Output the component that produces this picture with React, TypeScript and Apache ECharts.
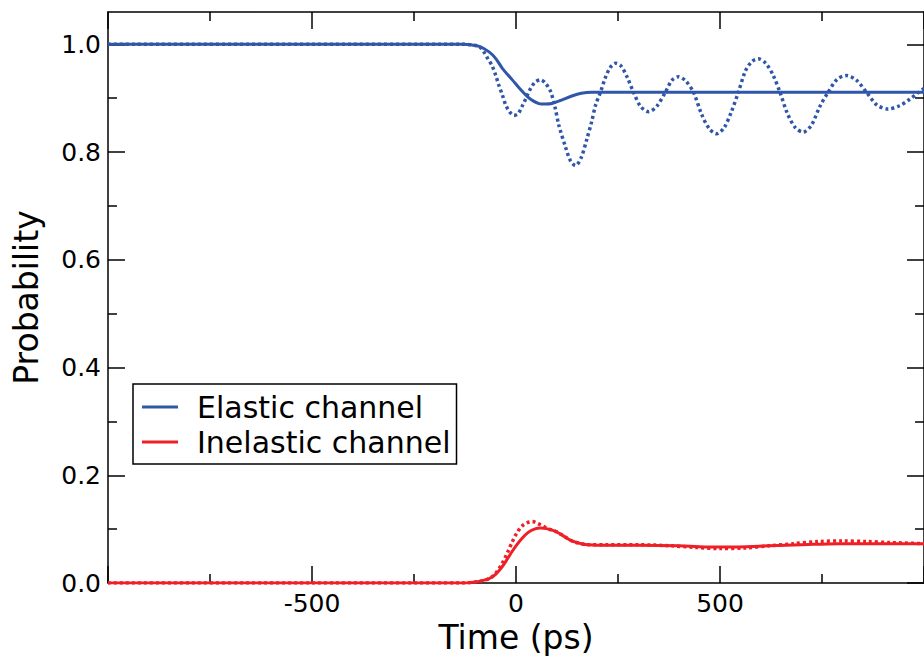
import React, { useEffect, useRef } from "react";
import * as echarts from "echarts";

// ---------- data ----------
const elasticSolidTime = [-1000, -500, -130, -110, -90, -66, -50, -33, -9, 10, 28, 42, 56, 72, 88, 110, 137, 160, 185, 220, 600, 1000];
const elasticSolidProb = [1, 1, 1, 0.999, 0.996, 0.986, 0.974, 0.955, 0.934, 0.917, 0.903, 0.895, 0.89, 0.889, 0.89, 0.896, 0.904, 0.909, 0.911, 0.911, 0.911, 0.911];

const elasticDotTime = [-1000, -500, -130, -110, -90, -78, -68, -59, -50, -42, -33, -25, -15, -5, 5, 15, 24, 35, 47, 60, 72, 85, 95, 105, 121, 134, 146, 160, 174, 185, 195, 207, 219, 231, 244, 257, 272, 288, 305, 325, 345, 366, 382, 398, 416, 435, 455, 474, 492, 510, 528, 545, 562, 578, 594, 612, 630, 647, 665, 685, 704, 724, 745, 765, 787, 810, 835, 859, 885, 912, 940, 965, 985, 1000];
const elasticDotProb = [1, 1, 1, 0.999, 0.996, 0.985, 0.972, 0.961, 0.943, 0.924, 0.905, 0.887, 0.874, 0.868, 0.871, 0.885, 0.899, 0.917, 0.93, 0.934, 0.928, 0.912, 0.885, 0.85, 0.81, 0.783, 0.775, 0.79, 0.825, 0.855, 0.887, 0.911, 0.938, 0.957, 0.965, 0.96, 0.94, 0.911, 0.885, 0.875, 0.885, 0.911, 0.933, 0.94, 0.932, 0.911, 0.87, 0.843, 0.834, 0.845, 0.875, 0.911, 0.95, 0.968, 0.973, 0.965, 0.943, 0.911, 0.872, 0.845, 0.837, 0.85, 0.885, 0.911, 0.935, 0.942, 0.933, 0.911, 0.887, 0.88, 0.886, 0.898, 0.91, 0.918];

const inelasticSolidTime = [-1000, -500, -130, -110, -90, -66, -50, -34, -20, -10, 0, 15, 30, 45, 60, 75, 97, 115, 137, 160, 178, 220, 300, 400, 464, 545, 620, 700, 790, 870, 1000];
const inelasticSolidProb = [0, 0, 0, 0.001, 0.003, 0.008, 0.016, 0.03, 0.046, 0.058, 0.069, 0.083, 0.094, 0.1, 0.102, 0.101, 0.096, 0.088, 0.078, 0.073, 0.071, 0.07, 0.07, 0.069, 0.067, 0.067, 0.069, 0.071, 0.073, 0.073, 0.073];

const inelasticDotTime = [-1000, -500, -130, -110, -90, -66, -50, -34, -20, -10, 2, 15, 28, 40, 52, 65, 80, 97, 115, 137, 160, 178, 220, 300, 380, 440, 500, 560, 620, 680, 740, 800, 860, 920, 1000];
const inelasticDotProb = [0, 0, 0, 0.001, 0.003, 0.008, 0.018, 0.036, 0.058, 0.075, 0.093, 0.106, 0.112, 0.114, 0.111, 0.106, 0.1, 0.096, 0.088, 0.078, 0.073, 0.071, 0.071, 0.071, 0.069, 0.066, 0.064, 0.065, 0.069, 0.073, 0.077, 0.078, 0.077, 0.075, 0.073];

const yMajorTicks = [0, 0.2, 0.4, 0.6, 0.8, 1.0];
const yMinorTicks = [0.1, 0.3, 0.5, 0.7, 0.9];
const legendNames = ["Elastic channel", "Inelastic channel"];

const BLUE = "#2f56a8";
const RED = "#ee1f26";
const FONT = "DejaVu Sans";

const zip = (t: number[], p: number[]) => t.map((v, i) => [v, p[i]]);

export default function App() {
  const ref = useRef<HTMLDivElement>(null);
  useEffect(() => {
    document.body.style.margin = "0";
    const chart = echarts.init(ref.current!, null, { renderer: "svg" });
    const axisLineStyle = { color: "#000", width: 1.5 };
    const xBase = (pos: "bottom" | "top", labels: boolean) => ({
      type: "value",
      position: pos,
      min: -1000,
      max: 1000,
      interval: 500,
      axisLine: { show: true, onZero: false, lineStyle: axisLineStyle },
      axisTick: { show: true, inside: true, length: 17, lineStyle: axisLineStyle },
      minorTick: { show: true, splitNumber: 2, length: 9, lineStyle: axisLineStyle },
      splitLine: { show: false },
      minorSplitLine: { show: false },
      axisLabel: {
        show: labels,
        showMinLabel: false,
        showMaxLabel: false,
        fontSize: 25,
        fontFamily: FONT,
        color: "#000",
        margin: 8,
      },
    });
    const yBase = (pos: "left" | "right", ticks: number[], len: number, line: boolean, labels: boolean) => ({
      type: "value",
      position: pos,
      min: 0,
      max: 1.06,
      interval: 0.2,
      axisLine: { show: line, onZero: false, lineStyle: axisLineStyle },
      axisTick: { show: true, inside: true, length: len, customValues: ticks, lineStyle: axisLineStyle },
      splitLine: { show: false },
      axisLabel: {
        show: labels,
        customValues: ticks,
        formatter: (v: number) => v.toFixed(1),
        fontSize: 25,
        fontFamily: FONT,
        color: "#000",
        margin: 7,
      },
    });
    const yMain: any = yBase("left", yMajorTicks, 17, true, true);
    yMain.name = "Probability";
    yMain.nameLocation = "middle";
    yMain.nameGap = 65;
    yMain.nameTextStyle = { fontSize: 33, fontFamily: FONT, color: "#000" };
    const xMain: any = xBase("bottom", true);
    xMain.name = "Time (ps)";
    xMain.nameLocation = "middle";
    xMain.nameGap = 35;
    xMain.nameTextStyle = { fontSize: 33, fontFamily: FONT, color: "#000" };

    const lineSeries = (name: string, data: number[][], color: string, dotted: boolean) => ({
      type: "line",
      name,
      data,
      xAxisIndex: 0,
      yAxisIndex: 0,
      showSymbol: false,
      symbol: "none",
      smooth: 0.3,
      lineStyle: { color, width: dotted ? 3.5 : 3, type: dotted ? [3, 3] : "solid" },
      itemStyle: { color },
      z: dotted ? 2 : 3,
    });

    chart.setOption({
      animation: false,
      backgroundColor: "#fff",
      grid: { left: 108, top: 12, right: -2, bottom: 81, containLabel: false },
      xAxis: [xMain, xBase("top", false)],
      yAxis: [
        yMain,
        yBase("left", yMinorTicks, 9, false, false),
        yBase("right", yMajorTicks, 17, true, false),
        yBase("right", yMinorTicks, 9, false, false),
      ],
      legend: {
        show: true,
        orient: "vertical",
        left: 133,
        top: 384,
        padding: [8, 6, 7, 9],
        itemGap: 5,
        itemWidth: 36,
        itemHeight: 3,
        borderColor: "#000",
        borderWidth: 1.5,
        backgroundColor: "#fff",
        data: [
          { name: legendNames[0], icon: "rect", itemStyle: { color: BLUE } },
          { name: legendNames[1], icon: "rect", itemStyle: { color: RED } },
        ],
        textStyle: { fontSize: 30, fontFamily: FONT, color: "#000", lineHeight: 30, padding: [0, 0, 0, 14] },
      },
      series: [
        lineSeries("Elastic dotted", zip(elasticDotTime, elasticDotProb), BLUE, true),
        lineSeries(legendNames[0], zip(elasticSolidTime, elasticSolidProb), BLUE, false),
        lineSeries("Inelastic dotted", zip(inelasticDotTime, inelasticDotProb), RED, true),
        lineSeries(legendNames[1], zip(inelasticSolidTime, inelasticSolidProb), RED, false),
      ],
    });
    return () => chart.dispose();
  }, []);
  return <div ref={ref} style={{ width: 924, height: 664 }} />;
}
